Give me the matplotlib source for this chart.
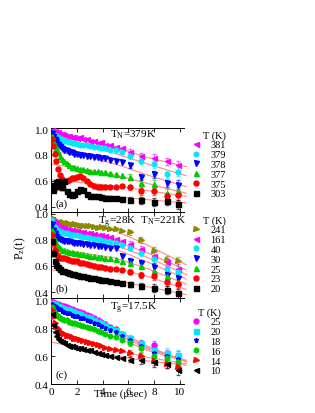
import matplotlib
matplotlib.use('Agg')
import matplotlib.pyplot as plt
from matplotlib.lines import Line2D

plt.rcParams['font.family'] = ['Liberation Serif', 'DejaVu Serif']
plt.rcParams['mathtext.fontset'] = 'stix'
plt.rcParams['font.size'] = 8

# time bins (usec), dense early, sparse late
t = [0.05, 0.15, 0.25, 0.35, 0.5, 0.65, 0.8, 1.0, 1.2, 1.4, 1.6, 1.8, 2.0, 2.25,
     2.5, 2.75, 3.0, 3.3, 3.6, 3.9, 4.2, 4.6, 5.0, 5.5, 6.1, 7.0, 8.0, 9.0, 9.9]
err_late = [0.02, 0.025, 0.03, 0.03, 0.035]
fit_t = [0, 2.5, 5, 7.5, 10.5]

# panel (a)
temps_a = ['381', '379', '378', '377', '375', '303']
a381 = [0.99, 0.98, 0.985, 0.97, 0.975, 0.96, 0.965, 0.955, 0.945, 0.95, 0.935, 0.94, 0.93, 0.935,
        0.92, 0.92, 0.905, 0.91, 0.895, 0.90, 0.88, 0.88, 0.86, 0.855, 0.826, 0.79, 0.775, 0.75, 0.72]
a379 = [0.98, 0.965, 0.955, 0.945, 0.935, 0.925, 0.92, 0.91, 0.905, 0.90, 0.895, 0.89, 0.885, 0.88,
        0.88, 0.875, 0.87, 0.865, 0.86, 0.855, 0.85, 0.84, 0.835, 0.82, 0.79, 0.755, 0.73, 0.65, 0.67]
a378 = [0.97, 0.945, 0.925, 0.905, 0.885, 0.87, 0.855, 0.84, 0.835, 0.825, 0.82, 0.81, 0.805, 0.80,
        0.80, 0.795, 0.79, 0.785, 0.785, 0.78, 0.775, 0.765, 0.755, 0.745, 0.72, 0.63, 0.65, 0.58, 0.57]
a377 = [0.95, 0.91, 0.88, 0.85, 0.82, 0.79, 0.77, 0.75, 0.735, 0.72, 0.71, 0.705, 0.70, 0.695,
        0.69, 0.685, 0.68, 0.675, 0.675, 0.67, 0.665, 0.66, 0.65, 0.645, 0.63, 0.58, 0.575, 0.505, 0.52]
a375 = [0.92, 0.87, 0.81, 0.75, 0.69, 0.645, 0.615, 0.60, 0.60, 0.61, 0.62, 0.625, 0.63, 0.635,
        0.625, 0.60, 0.575, 0.56, 0.55, 0.555, 0.55, 0.555, 0.55, 0.56, 0.55, 0.52, 0.52, 0.48, 0.49]
a303 = [0.57, 0.53, 0.56, 0.59, 0.60, 0.56, 0.55, 0.60, 0.52, 0.50, 0.49, 0.50, 0.52, 0.535,
        0.53, 0.50, 0.485, 0.48, 0.48, 0.475, 0.47, 0.47, 0.465, 0.46, 0.455, 0.45, 0.44, 0.445, 0.42]
fit_a = [[0.98, 0.925, 0.86, 0.78, 0.71],
         [0.93, 0.875, 0.81, 0.73, 0.64],
         [0.83, 0.79, 0.73, 0.645, 0.555],
         [0.73, 0.69, 0.645, 0.58, 0.505],
         [0.61, 0.585, 0.56, 0.525, 0.48],
         [0.53, 0.505, 0.48, 0.455, 0.43]]

# panel (b)
temps_b = ['241', '161', '40', '30', '25', '23', '20']
b241 = [0.97, 0.96, 0.95, 0.945, 0.94, 0.93, 0.935, 0.925, 0.93, 0.92, 0.915, 0.92, 0.915, 0.91,
        0.905, 0.91, 0.905, 0.90, 0.895, 0.90, 0.89, 0.885, 0.885, 0.87, 0.86, 0.80, 0.715, 0.645, 0.635]
b161 = [0.96, 0.94, 0.93, 0.92, 0.91, 0.90, 0.895, 0.89, 0.885, 0.88, 0.875, 0.87, 0.87, 0.865,
        0.86, 0.855, 0.85, 0.845, 0.84, 0.835, 0.83, 0.82, 0.81, 0.795, 0.77, 0.73, 0.68, 0.63, 0.58]
b40 = [0.95, 0.92, 0.90, 0.885, 0.875, 0.865, 0.86, 0.855, 0.85, 0.845, 0.84, 0.84, 0.835, 0.83,
       0.825, 0.82, 0.815, 0.81, 0.805, 0.80, 0.795, 0.785, 0.775, 0.76, 0.74, 0.70, 0.65, 0.58, 0.55]
b30 = [0.92, 0.88, 0.85, 0.83, 0.815, 0.805, 0.80, 0.795, 0.79, 0.79, 0.785, 0.78, 0.78, 0.775,
       0.77, 0.77, 0.765, 0.76, 0.755, 0.75, 0.745, 0.74, 0.735, 0.68, 0.64, 0.62, 0.59, 0.53, 0.51]
b25 = [0.88, 0.83, 0.79, 0.765, 0.75, 0.735, 0.725, 0.72, 0.715, 0.71, 0.705, 0.70, 0.70, 0.695,
       0.69, 0.685, 0.68, 0.675, 0.67, 0.67, 0.665, 0.66, 0.65, 0.64, 0.62, 0.60, 0.56, 0.52, 0.48]
b23 = [0.84, 0.77, 0.72, 0.69, 0.68, 0.665, 0.665, 0.66, 0.65, 0.645, 0.64, 0.635, 0.635, 0.625,
       0.62, 0.615, 0.61, 0.60, 0.595, 0.59, 0.585, 0.58, 0.575, 0.57, 0.555, 0.53, 0.52, 0.48, 0.465]
b20 = [0.79, 0.70, 0.64, 0.61, 0.59, 0.575, 0.565, 0.56, 0.55, 0.545, 0.54, 0.535, 0.53, 0.525,
       0.52, 0.515, 0.51, 0.505, 0.50, 0.495, 0.49, 0.485, 0.475, 0.47, 0.46, 0.445, 0.43, 0.415, 0.39]
fit_b = [[0.95, 0.925, 0.87, 0.76, 0.61],
         [0.88, 0.845, 0.79, 0.70, 0.57],
         [0.85, 0.81, 0.76, 0.665, 0.535],
         [0.80, 0.775, 0.73, 0.63, 0.50],
         [0.73, 0.70, 0.66, 0.58, 0.46],
         [0.67, 0.635, 0.585, 0.52, 0.42],
         [0.57, 0.535, 0.49, 0.44, 0.38]]

# panel (c)
temps_c = ['25', '20', '18', '16', '14', '10']
c25 = [0.99, 0.985, 0.98, 0.975, 0.97, 0.965, 0.96, 0.955, 0.95, 0.945, 0.935, 0.93, 0.925, 0.915,
       0.905, 0.895, 0.885, 0.87, 0.86, 0.845, 0.83, 0.81, 0.79, 0.76, 0.72, 0.69, 0.68, 0.61, 0.60]
c20 = [0.98, 0.975, 0.97, 0.96, 0.955, 0.95, 0.945, 0.94, 0.935, 0.93, 0.92, 0.915, 0.91, 0.90,
       0.89, 0.88, 0.87, 0.86, 0.845, 0.835, 0.82, 0.80, 0.785, 0.76, 0.73, 0.69, 0.645, 0.625, 0.61]
c18 = [0.97, 0.96, 0.955, 0.95, 0.94, 0.935, 0.925, 0.915, 0.91, 0.905, 0.895, 0.89, 0.885, 0.875,
       0.87, 0.86, 0.85, 0.84, 0.83, 0.815, 0.80, 0.785, 0.77, 0.745, 0.715, 0.67, 0.62, 0.60, 0.58]
c16 = [0.95, 0.93, 0.91, 0.895, 0.885, 0.875, 0.865, 0.86, 0.855, 0.845, 0.84, 0.835, 0.83, 0.82,
       0.815, 0.805, 0.80, 0.79, 0.78, 0.77, 0.76, 0.745, 0.735, 0.715, 0.69, 0.655, 0.60, 0.585, 0.56]
c14 = [0.93, 0.88, 0.84, 0.81, 0.79, 0.775, 0.765, 0.755, 0.745, 0.74, 0.735, 0.725, 0.72, 0.715,
       0.71, 0.70, 0.695, 0.685, 0.68, 0.67, 0.66, 0.65, 0.645, 0.635, 0.62, 0.60, 0.565, 0.545, 0.525]
c10 = [0.90, 0.82, 0.77, 0.745, 0.725, 0.71, 0.70, 0.69, 0.68, 0.675, 0.67, 0.665, 0.66, 0.655,
       0.65, 0.645, 0.64, 0.63, 0.625, 0.615, 0.61, 0.60, 0.595, 0.585, 0.575, 0.57, 0.555, 0.545, 0.50]
fit_c = [[0.99, 0.91, 0.79, 0.67, 0.56],
         [0.98, 0.90, 0.78, 0.66, 0.565],
         [0.955, 0.87, 0.76, 0.65, 0.57],
         [0.88, 0.815, 0.735, 0.64, 0.56],
         [0.78, 0.71, 0.645, 0.59, 0.545],
         [0.70, 0.65, 0.60, 0.565, 0.535]]

MAG, CYA, BLU, GRN, RED, BLK, OLV = '#ff00ff', '#00e8ff', '#0000ff', '#00cc00', '#ff0000', '#000000', '#8b8b00'
FITC = '#ff8a8a'


def draw_panel(ax, series, fits, temps, colors, markers, legend_top):
    for y, f, c, m in zip(series, fits, colors, markers):
        ax.plot(fit_t, f, color=FITC, lw=0.8, zorder=1, clip_on=False)
        ax.errorbar(t[-5:], y[-5:], yerr=err_late, fmt='none', ecolor=c,
                    elinewidth=0.6, capsize=1.5, alpha=0.6, zorder=2)
        ax.plot(t, y, ls='none', marker=m, ms=3.6, color=c, mec=c, zorder=3)
    handles = [Line2D([], [], ls='none', marker=m, color=c, ms=3.6) for c, m in zip(colors, markers)]
    ax.legend(handles, temps, title='T (K)', loc='upper left',
              bbox_to_anchor=(191 / 315, 1 - legend_top / 414), bbox_transform=fig.transFigure,
              frameon=False, handlelength=1.0, handletextpad=0.85, labelspacing=0.05,
              borderpad=0, borderaxespad=0, alignment='right', fontsize=7.5, title_fontsize=7.5)
    ax.set_xlim(0, 10.3)
    ax.set_xticks([0, 2, 4, 6, 8, 10])
    ax.set_yticks([0.4, 0.6, 0.8, 1.0])
    ax.set_yticklabels(['0.4', '0.6', '0.8', '1.0'])
    ax.tick_params(direction='in', length=3, width=0.6, top=True, right=False, labelsize=8, pad=2)
    ax.spines['right'].set_visible(False)
    for s in ['left', 'top', 'bottom']:
        ax.spines[s].set_linewidth(0.7)


fig = plt.figure(figsize=(3.15, 4.14), dpi=100)
ax_a = fig.add_axes([0.1629, 0.4855, 0.42, 0.2029])
ax_b = fig.add_axes([0.1629, 0.2778, 0.42, 0.2077])
ax_c = fig.add_axes([0.1629, 0.0700, 0.42, 0.2077])

draw_panel(ax_a, [a381, a379, a378, a377, a375, a303], fit_a, temps_a,
           [MAG, CYA, BLU, GRN, RED, BLK], ['<', 'h', 'v', '^', 'o', 's'], 131)
draw_panel(ax_b, [b241, b161, b40, b30, b25, b23, b20], fit_b, temps_b,
           [OLV, MAG, CYA, BLU, GRN, RED, BLK], ['>', '<', 'h', 'v', '^', 'o', 's'], 216)
draw_panel(ax_c, [c25, c20, c18, c16, c14, c10], fit_c, temps_c,
           [MAG, CYA, BLU, GRN, RED, BLK], ['o', 's', '*', 'h', '>', '<'], 308)

ax_a.set_ylim(0.36, 1.008)
ax_b.set_ylim(0.354, 1.015)
ax_c.set_ylim(0.40, 1.015)
ax_a.tick_params(labelbottom=False)
ax_b.tick_params(labelbottom=False)

ax_a.text(4.6, 0.96, r'T$_\mathregular{N}$=379K', fontsize=8, va='center')
ax_b.text(3.6, 0.94, r'T$_\mathregular{g}$=28K  T$_\mathregular{N}$=221K', fontsize=8, va='center')
ax_c.text(4.6, 0.95, r'T$_\mathregular{g}$=17.5K', fontsize=8, va='center')
ax_a.text(0.35, 0.43, '(a)', fontsize=8, va='center')
ax_b.text(0.35, 0.43, '(b)', fontsize=8, va='center')
ax_c.text(0.35, 0.47, '(c)', fontsize=8, va='center')

fig.text(20 / 315, 1 - 248 / 414, r'P$_\mathregular{z}$(t)', rotation=90, fontsize=8.5, ha='center', va='center')
# the axis title sits on the tick-label row, as in the original figure
fig.text(121 / 315, 1 - 394 / 414, 'Time (\u03bcsec)', fontsize=8, ha='center', va='center')

fig.savefig('out.png', dpi=100)
